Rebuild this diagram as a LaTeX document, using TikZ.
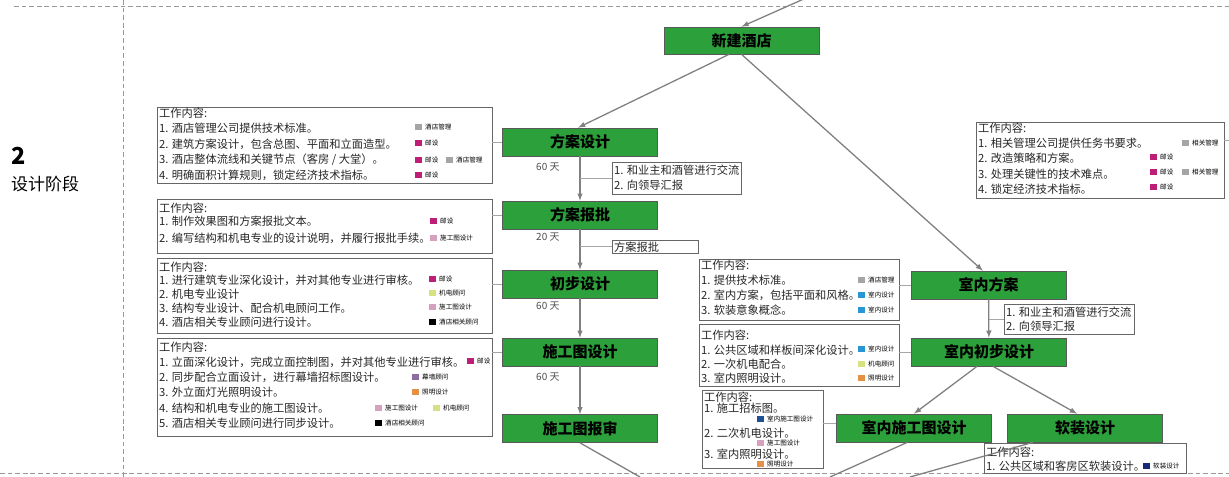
\documentclass[tikz,border=0pt]{standalone}
\usepackage{fontspec}
\newfontfamily\cjk{Noto Sans CJK SC}
\usetikzlibrary{fit}
\definecolor{stagegreen}{RGB}{44,160,58}
\definecolor{cgrey}{RGB}{165,165,165}
\definecolor{cmag}{RGB}{190,30,120}
\definecolor{cpink}{RGB}{215,160,190}
\definecolor{cyellow}{RGB}{215,225,130}
\definecolor{cpurple}{RGB}{140,110,160}
\definecolor{corange}{RGB}{228,145,70}
\definecolor{cblue}{RGB}{40,150,210}
\definecolor{cdblue}{RGB}{30,80,150}
\definecolor{cnavy}{RGB}{25,40,120}
\tikzset{
  stage/.style={draw=black!65, fill=stagegreen, line width=0.6pt, minimum width=4.65cm,
    minimum height=0.84cm, inner sep=0pt, font=\cjk\bfseries\fontsize{12.8}{14}\selectfont},
  infobox/.style={draw=black!60, line width=0.6pt, inner sep=0pt},
  item/.style={anchor=west, inner sep=0pt, text=black!85, font=\cjk\fontsize{9.6}{11}\selectfont},
  legtext/.style={anchor=west, inner sep=0pt, font=\cjk\fontsize{5.6}{6}\selectfont},
  days/.style={anchor=west, inner sep=0pt, text=black!70, font=\cjk\fontsize{8.5}{10}\selectfont},
  link/.style={draw=black!35, line width=0.6pt},
  flow/.style={draw=black!50, line width=1.1pt},
  phase/.style={draw=black!40, line width=0.8pt, dash pattern=on 4pt off 2.5pt},
}
% name, x, y, colour, label
\newcommand{\legitem}[5]{%
  \fill[#4] (#2,#3-3) rectangle ++(7,6);
  \node[legtext] (#1) at (#2+10,#3) {#5};}

\begin{document}
\begin{tikzpicture}[>=latex, x=0.03cm, y=-0.03cm]
  \useasboundingbox (0,0) rectangle (1229,477);
  % phase frame
  \draw[phase] (14,6) -- (1229,6);
  \draw[phase] (0,473) -- (1229,473);
  \draw[phase] (123,0) -- (123,477);
  \node[anchor=west, inner sep=0pt, font=\cjk\bfseries\fontsize{20}{20}\selectfont] (num) at (11,156) {2};
  \node[anchor=west, inner sep=0pt, font=\cjk\fontsize{14.5}{16}\selectfont] (phasename) at (11,184) {设计阶段};

  % stages
  \node[stage, minimum height=0.81cm] (xj) at (741.5,40.5) {新建酒店};
  \node[stage] (fasj)  at (580,142) {方案设计};
  \node[stage] (fabp)  at (580,215) {方案报批};
  \node[stage] (cbsj)  at (580,284) {初步设计};
  \node[stage] (sgtsj) at (580,352) {施工图设计};
  \node[stage] (sgtbs) at (580,428.5) {施工图报审};
  \node[stage] (snfa)   at (988.5,285) {室内方案};
  \node[stage] (sncbsj) at (989,352) {室内初步设计};
  \node[stage] (snsgt)  at (914,428) {室内施工图设计};
  \node[stage] (rz)     at (1085,428) {软装设计};

  \coordinate (in0) at (806,-2);
  \coordinate (out1) at (640,477);
  \coordinate (out2) at (830,477);
  \coordinate (out3) at (910,477);
  \coordinate (hstub) at (1229,140);

  % flow
  \draw[flow,->] (in0) -- (xj.north);
  \draw[flow,->] ([xshift=-0.375cm]xj.south) -- ([xshift=-0.06cm]fasj.north);
  \draw[flow,->] (xj.south) -- ([xshift=-0.17cm]snfa.north);
  \draw[flow,->] (fasj) -- (fabp);
  \draw[flow,->] (fabp) -- (cbsj);
  \draw[flow,->] (cbsj) -- (sgtsj);
  \draw[flow,->] (sgtsj) -- (sgtbs);
  \draw[flow] (sgtbs.south) -- (out1);
  \draw[flow,->] (snfa) -- (sncbsj);
  \draw[flow,->] ([xshift=-0.36cm]sncbsj.south) -- (snsgt.north);
  \draw[flow,->] ([xshift=0.12cm]sncbsj.south) -- ([xshift=-0.24cm]rz.north);
  \draw[flow] ([xshift=-0.2cm]snsgt.south) -- (out2);

  % durations
  \node[days] (d1) at (536,167) {60 天};
  \node[days] (d2) at (536,237) {20 天};
  \node[days] (d3) at (536,306) {60 天};
  \node[days] (d4) at (536,377) {60 天};

  % remarks
  \node[infobox, fill=white, fit={(612,162) (741,194)}] (rem1) {};
  \node[item] (r1a) at (614,170) {1. 和业主和酒管进行交流};
  \node[item] (r1b) at (614,185) {2. 向领导汇报};
  \node[infobox, fill=white, fit={(612,240) (698,253)}] (rem2) {};
  \node[item] (r2a) at (614,247) {方案报批};
  \node[infobox, fill=white, fit={(1004,304) (1134,334)}] (rem3) {};
  \node[item] (r3a) at (1006,312) {1. 和业主和酒管进行交流};
  \node[item] (r3b) at (1006,326) {2. 向领导汇报};
  \draw[link] (rem1.west) -- (rem1.west -| fasj.south);
  \draw[link] (rem2.west) -- (rem2.west -| fabp.south);
  \draw[link] (rem3.west) -- (rem3.west -| snfa.south);

  % work boxes, left column
  \node[infobox, fit={(157,107) (492,183)}] (boxA) {};
  \foreach \y/\t [count=\i] in {113/工作内容:, 128/{1. 酒店管理公司提供技术标准。},
      144/{2. 建筑方案设计，包含总图、平面和立面造型。}, 160/{3. 酒店整体流线和关键节点（客房 / 大堂）。},
      175/{4. 明确面积计算规则，锁定经济技术指标。}}
    \node[item] (a\i) at (159,\y) {\t};
  \legitem{la1}{415}{127}{cgrey}{酒店管理}
  \legitem{la2}{415}{143}{cmag}{邮设}
  \legitem{la3}{415}{160}{cmag}{邮设}
  \legitem{la4}{446}{160}{cgrey}{酒店管理}
  \legitem{la5}{415}{175}{cmag}{邮设}

  \node[infobox, fit={(157,199) (492,253)}] (boxB) {};
  \foreach \y/\t [count=\i] in {208/工作内容:, 221/{1. 制作效果图和方案报批文本。},
      238/{2. 编写结构和机电专业的设计说明，并履行报批手续。}}
    \node[item] (b\i) at (159,\y) {\t};
  \legitem{lb1}{430}{221}{cmag}{邮设}
  \legitem{lb2}{430}{238}{cpink}{施工图设计}

  \node[infobox, fit={(157,258) (492,333)}] (boxC) {};
  \foreach \y/\t [count=\i] in {267/工作内容:, 280/{1. 进行建筑专业深化设计，并对其他专业进行审核。},
      294/{2. 机电专业设计}, 308/{3. 结构专业设计、配合机电顾问工作。}, 322/{4. 酒店相关专业顾问进行设计。}}
    \node[item] (c\i) at (159,\y) {\t};
  \legitem{lc1}{429}{279}{cmag}{邮设}
  \legitem{lc2}{429}{293}{cyellow}{机电顾问}
  \legitem{lc3}{429}{307}{cpink}{施工图设计}
  \legitem{lc4}{429}{322}{black}{酒店相关顾问}

  \node[infobox, fit={(157,338) (492,436)}] (boxD) {};
  \foreach \y/\t [count=\i] in {347/工作内容:, 362/{1. 立面深化设计，完成立面控制图，并对其他专业进行审核。},
      377/{2. 同步配合立面设计，进行幕墙招标图设计。}, 392/{3. 外立面灯光照明设计。},
      408/{4. 结构和机电专业的施工图设计。}, 423/{5. 酒店相关专业顾问进行同步设计。}}
    \node[item] (dd\i) at (159,\y) {\t};
  \legitem{ld1}{467}{361}{cmag}{邮设}
  \legitem{ld2}{412}{377}{cpurple}{幕墙顾问}
  \legitem{ld3}{412}{392}{corange}{照明设计}
  \legitem{ld4}{375}{408}{cpink}{施工图设计}
  \legitem{ld5}{433}{408}{cyellow}{机电顾问}
  \legitem{ld6}{375}{423}{black}{酒店相关顾问}

  \draw[link] (fasj.west) -- (fasj.west -| boxA.east);
  \draw[link] (fabp.west) -- (fabp.west -| boxB.east);
  \draw[link] (cbsj.west) -- (cbsj.west -| boxC.east);
  \draw[link] (sgtsj.west) -- (sgtsj.west -| boxD.east);

  % work boxes, interior column
  \node[infobox, fit={(699,259) (899,320)}] (boxE) {};
  \foreach \y/\t [count=\i] in {265/工作内容:, 280/{1. 提供技术标准。},
      295/{2. 室内方案，包括平面和风格。}, 310/{3. 软装意象概念。}}
    \node[item] (e\i) at (701,\y) {\t};
  \legitem{le1}{858}{280}{cgrey}{酒店管理}
  \legitem{le2}{858}{295}{cblue}{室内设计}
  \legitem{le3}{858}{310}{cblue}{室内设计}

  \node[infobox, fit={(699,324) (899,386)}] (boxF) {};
  \foreach \y/\t [count=\i] in {335/工作内容:, 350/{1. 公共区域和样板间深化设计。},
      364/{2. 一次机电配合。}, 378/{3. 室内照明设计。}}
    \node[item] (f\i) at (701,\y) {\t};
  \legitem{lf1}{858}{349}{cblue}{室内设计}
  \legitem{lf2}{858}{364}{cyellow}{机电顾问}
  \legitem{lf3}{858}{378}{corange}{照明设计}

  \node[infobox, fit={(702,390) (823,468)}] (boxG) {};
  \foreach \y/\t [count=\i] in {397/工作内容:, 408/{1. 施工招标图。},
      433/{2. 二次机电设计。}, 454/{3. 室内照明设计。}}
    \node[item] (g\i) at (704,\y) {\t};
  \legitem{lg1}{757}{419}{cdblue}{室内施工图设计}
  \legitem{lg2}{757}{443}{cpink}{施工图设计}
  \legitem{lg3}{757}{464}{corange}{照明设计}

  \node[infobox, fit={(976,122) (1224,198)}] (boxH) {};
  \foreach \y/\t [count=\i] in {128/工作内容:, 143/{1. 相关管理公司提供任务书要求。},
      158/{2. 改造策略和方案。}, 174/{3. 处理关键性的技术难点。}, 189/{4. 锁定经济技术指标。}}
    \node[item] (h\i) at (978,\y) {\t};
  \legitem{lh1}{1182}{143}{cgrey}{相关管理}
  \legitem{lh2}{1150}{157}{cmag}{邮设}
  \legitem{lh3}{1150}{172}{cmag}{邮设}
  \legitem{lh4}{1182}{172}{cgrey}{相关管理}
  \legitem{lh5}{1150}{187}{cmag}{邮设}

  \node[infobox, fill=white, fit={(984,443) (1186,473)}] (boxI) {};
  \foreach \y/\t [count=\i] in {452/工作内容:, 466/{1. 公共区域和客房区软装设计。}}
    \node[item] (ii\i) at (986,\y) {\t};
  \legitem{li1}{1143}{466}{cnavy}{软装设计}
  \draw[flow] ([xshift=-1.56cm]rz.south) -- (out3);

  \draw[link] (snfa.west) -- (snfa.west -| boxE.east);
  \draw[link] (sncbsj.west) -- (sncbsj.west -| boxF.east);
  \draw[link] ([yshift=0.15cm]snsgt.west) -- ([yshift=0.15cm]snsgt.west -| boxG.east);
  \draw[link] (hstub -| boxH.east) -- (hstub);
\end{tikzpicture}
\end{document}
